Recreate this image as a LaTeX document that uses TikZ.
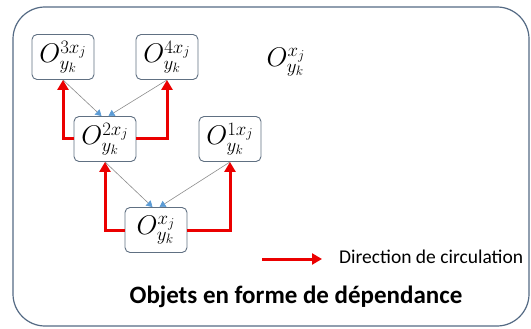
\documentclass[tikz,border=0pt]{standalone}
\usepackage{fix-cm}
\usepackage{fontspec}
\setmainfont{Carlito}
\usetikzlibrary{arrows.meta}
\definecolor{framec}{RGB}{84,106,132}
\definecolor{boxc}{RGB}{96,112,130}
\definecolor{redc}{RGB}{235,0,0}
\definecolor{bluetip}{RGB}{91,155,213}
\definecolor{grayline}{RGB}{140,140,140}
\tikzset{
  obox/.style={draw=boxc, line width=0.9pt, rounded corners=5pt, minimum width=62pt, minimum height=45pt, inner sep=0pt, fill=white, font=\fontsize{27}{29}\selectfont},
  redarrow/.style={draw=redc, line width=3pt, -{Triangle[length=10pt,width=11pt]}},
  grayarrow/.style={draw=grayline, line width=0.6pt, -{Triangle[length=6pt,width=7pt,color=bluetip]}},
}
\newcommand{\objlab}[1]{$O_{y_k}^{#1}$}
\begin{document}
\begin{tikzpicture}[x=1pt,y=-1pt]
\useasboundingbox (0,0) rectangle (531,329);
\draw[framec, line width=1.2pt, rounded corners=32pt] (13,7) rectangle (529,326);
% nodes
\node[obox] (o3) at (63,57) {\objlab{3x_j}};
\node[obox] (o4) at (167,57) {\objlab{4x_j}};
\node[obox] (o2) at (105,139) {\objlab{2x_j}};
\node[obox] (o1) at (230,139) {\objlab{1x_j}};
\node[obox] (o0) at (156,230) {\objlab{x_j}};
\node[font=\fontsize{27}{29}\selectfont] (ofree) at (286,62) {\objlab{x_j}};
% gray dependency arrows
\draw[grayarrow] (o3.south) -- ([xshift=-3.5pt]o2.north);
\draw[grayarrow] (o4.south) -- ([xshift=3.5pt]o2.north);
\draw[grayarrow] (o2.south) -- ([xshift=-3.5pt]o0.north);
\draw[grayarrow] (o1.south) -- ([xshift=3.5pt]o0.north);
% red circulation arrows
\draw[redarrow] (o2.west) -| (o3.south);
\draw[redarrow] (o2.east) -| (o4.south);
\draw[redarrow] (o0.west) -| (o2.south);
\draw[redarrow] (o0.east) -| (o1.south);
% legend
\coordinate (l1) at (262,259);
\coordinate (l2) at (322,259);
\draw[redarrow] (l1) -- (l2);
\node[anchor=west, font=\fontsize{19.5}{21}\selectfont, inner sep=0pt] (legtxt) at (339,257) {Direction de circulation};
\node[font=\bfseries\fontsize{25}{27}\selectfont] (title) at (296,297) {Objets en forme de dépendance};
\end{tikzpicture}
\end{document}
